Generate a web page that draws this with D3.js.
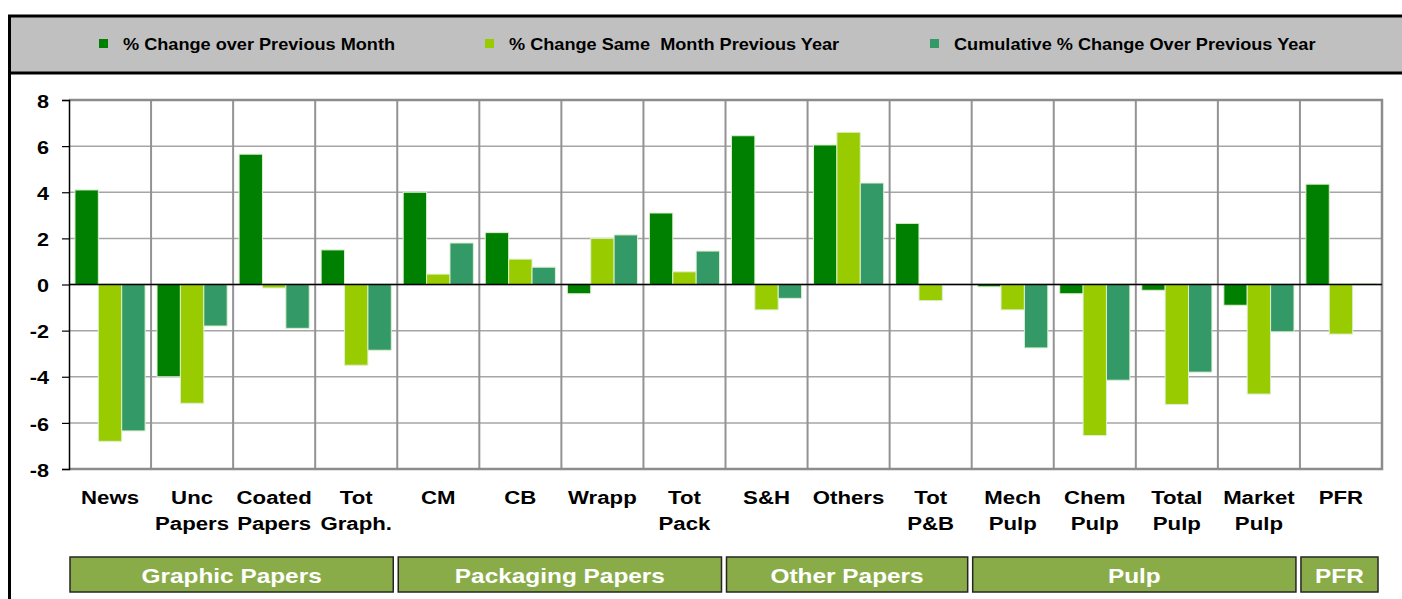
<!DOCTYPE html>
<html>
<head>
<meta charset="utf-8">
<script src="https://cdn.jsdelivr.net/npm/d3@7"></script>
<style>
  body { margin: 0; background: #fff; }
  svg { display: block; font-family: "Liberation Sans", Arial, sans-serif; }
  text { white-space: pre; }
</style>
</head>
<body>
<svg id="chart"></svg>
<script>
// categories (line breaks as in the picture)
const categories = ["News", "Unc\nPapers", "Coated\nPapers", "Tot\nGraph.", "CM", "CB", "Wrapp", "Tot\nPack",
  "S&H", "Others", "Tot\nP&B", "Mech\nPulp", "Chem\nPulp", "Total\nPulp", "Market\nPulp", "PFR"];

const seriesNames = ["% Change over Previous Month", "% Change Same  Month Previous Year", "Cumulative % Change Over Previous Year"];
const seriesColors = ["#008000", "#99CC00", "#339966"];

const monthChange = [4.1, -4.0, 5.65, 1.5, 4.0, 2.25, -0.4, 3.1, 6.45, 6.05, 2.65, -0.1, -0.4, -0.25, -0.9, 4.35];
const yearChange = [-6.8, -5.15, -0.15, -3.5, 0.45, 1.1, 2.0, 0.55, -1.1, 6.6, -0.7, -1.1, -6.55, -5.2, -4.75, -2.15];
const cumulativeChange = [-6.35, -1.8, -1.9, -2.85, 1.8, 0.75, 2.15, 1.45, -0.6, 4.4, 0.0, -2.75, -4.15, -3.8, -2.05, 0.05];

const yTicks = [-8, -6, -4, -2, 0, 2, 4, 6, 8];

const groupNames = ["Graphic Papers", "Packaging Papers", "Other Papers", "Pulp", "PFR"];
const groupSizes = [4, 4, 3, 4, 1];

const width = 1402, height = 599;
const plot = { left: 69, right: 1382, top: 100, bottom: 469 };

// widen text like the original (horizontally stretched Arial), scaling about the origin
function stretch(sel, k) {
  sel.each(function () {
    const t = d3.select(this);
    const tx = +t.attr("x") || 0;
    t.attr("x", tx / k).attr("transform", `scale(${k},1)`);
  });
}

const svg = d3.select("#chart").attr("width", width).attr("height", height);

// frame + legend band
svg.append("rect")
  .attr("x", 9.5).attr("y", 16).attr("width", 1400).attr("height", 57)
  .attr("fill", "#C0C0C0").attr("stroke", "#000").attr("stroke-width", 3);
svg.append("line")
  .attr("x1", 9.5).attr("x2", 9.5).attr("y1", 16).attr("y2", height)
  .attr("stroke", "#000").attr("stroke-width", 3);

// legend
const legendX = [123, 509, 954];
const legend = svg.append("g").attr("class", "legend");
seriesNames.forEach((name, i) => {
  legend.append("rect")
    .attr("x", legendX[i] - 24).attr("y", 39).attr("width", 9).attr("height", 9)
    .attr("fill", seriesColors[i]);
  legend.append("text")
    .attr("x", legendX[i]).attr("y", 50)
    .attr("font-size", 16.5).attr("font-weight", "bold").attr("fill", "#000")
    .text(name)
    .call(stretch, 1.1);
});

// scales
const x = d3.scaleBand().domain(categories).range([plot.left, plot.right]).padding(0);
const x1 = d3.scaleBand().domain(d3.range(seriesNames.length)).range([0, x.bandwidth()])
  .paddingInner(0).paddingOuter(0.255);
const y = d3.scaleLinear().domain([-8, 8]).range([plot.bottom, plot.top]);

const chart = svg.append("g");

// horizontal grid
chart.append("g")
  .selectAll("line")
  .data(yTicks)
  .join("line")
  .attr("x1", plot.left).attr("x2", plot.right)
  .attr("y1", d => y(d)).attr("y2", d => y(d))
  .attr("stroke", "#A6A6A6").attr("stroke-width", 1.5);

// vertical separators
chart.append("g")
  .selectAll("line")
  .data(categories.slice(1))
  .join("line")
  .attr("x1", d => x(d)).attr("x2", d => x(d))
  .attr("y1", plot.top).attr("y2", plot.bottom)
  .attr("stroke", "#939393").attr("stroke-width", 2);

// plot border (top, right, bottom)
chart.append("path")
  .attr("d", `M${plot.left},${plot.top}H${plot.right}V${plot.bottom}H${plot.left}`)
  .attr("fill", "none").attr("stroke", "#8C8C8C").attr("stroke-width", 2.5);

// bars
const rows = categories.map((c, i) => ({
  cat: c,
  values: [monthChange[i], yearChange[i], cumulativeChange[i]]
}));

chart.append("g")
  .selectAll("g")
  .data(rows)
  .join("g")
  .attr("transform", d => `translate(${x(d.cat)},0)`)
  .selectAll("rect")
  .data(d => d.values.map((v, s) => ({ s, v })))
  .join("rect")
  .attr("x", d => x1(d.s))
  .attr("width", x1.bandwidth())
  .attr("y", d => y(Math.max(0, d.v)))
  .attr("height", d => Math.abs(y(d.v) - y(0)))
  .attr("fill", d => seriesColors[d.s])
  .attr("stroke", "#DDEFD0").attr("stroke-width", 1);

// zero line
chart.append("line")
  .attr("x1", plot.left).attr("x2", plot.right)
  .attr("y1", y(0)).attr("y2", y(0))
  .attr("stroke", "#000").attr("stroke-width", 1.5);

// y axis
const yAxis = d3.axisLeft(y).tickValues(yTicks).tickSize(7).tickPadding(10).tickFormat(d => String(d));
const yAxisGroup = chart.append("g")
  .attr("transform", `translate(${plot.left},0)`)
  .call(yAxis);
yAxisGroup.select(".domain").attr("stroke", "#000").attr("stroke-width", 1.5);
yAxisGroup.selectAll(".tick line").attr("stroke", "#000").attr("stroke-width", 1.2);
yAxisGroup.selectAll(".tick text")
  .attr("font-size", 18).attr("font-weight", "bold").attr("fill", "#000")
  .attr("font-family", "Liberation Sans, Arial, sans-serif")
  .attr("dy", "0.4em")
  .attr("x", -20).attr("text-anchor", "end")
  .call(stretch, 1.2);

// category labels
const catLabels = svg.append("g");
categories.forEach(c => {
  c.split("\n").forEach((line, j) => {
    catLabels.append("text")
      .attr("x", x(c) + x.bandwidth() / 2)
      .attr("y", 504 + j * 26)
      .attr("text-anchor", "middle")
      .attr("font-size", 18.5).attr("font-weight", "bold").attr("fill", "#000")
      .text(line)
      .call(stretch, 1.2);
  });
});

// group boxes
const groups = svg.append("g");
let start = 0;
groupNames.forEach((g, i) => {
  const first = categories[start];
  const last = categories[start + groupSizes[i] - 1];
  const gx0 = x(first) + 1;
  const gx1 = x(last) + x.bandwidth() - 4;
  groups.append("rect")
    .attr("x", gx0).attr("y", 557).attr("width", gx1 - gx0).attr("height", 35)
    .attr("fill", "#8AAC48").attr("stroke", "#262626").attr("stroke-width", 1.5);
  groups.append("text")
    .attr("x", (gx0 + gx1) / 2).attr("y", 583)
    .attr("text-anchor", "middle")
    .attr("font-size", 20).attr("font-weight", "bold").attr("fill", "#fff")
    .text(g)
    .call(stretch, 1.22);
  start += groupSizes[i];
});
</script>
</body>
</html>
